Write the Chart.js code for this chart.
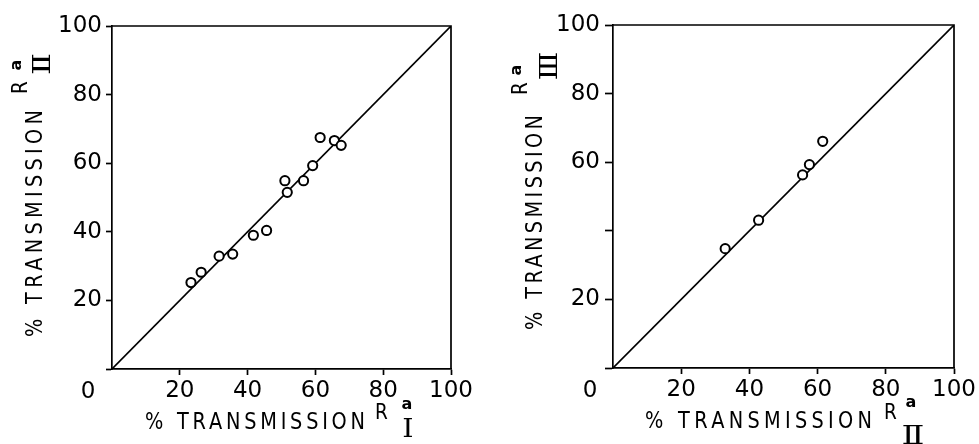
<!DOCTYPE html>
<html><head><meta charset="utf-8">
<script src="https://cdn.jsdelivr.net/npm/chart.js@4"></script>
<style>
html,body{margin:0;padding:0;background:#fff;overflow:hidden}
#wrap{position:relative;width:979px;height:444px;background:#fff}
canvas{position:absolute;top:0}
</style></head><body>
<div id="wrap">
<canvas id="c1" width="490" height="444" style="left:0"></canvas>
<canvas id="c2" width="489" height="444" style="left:490px"></canvas>
</div>
<script>
// ---- data ----
const leftX = [23.3, 26.3, 31.6, 35.6, 41.7, 45.6, 51.0, 51.7, 56.5, 59.2, 61.4, 65.6, 67.6];
const leftY = [25.2, 28.2, 32.9, 33.5, 39.0, 40.4, 54.9, 51.5, 54.9, 59.3, 67.5, 66.6, 65.2];
const rightX = [32.9, 42.7, 55.6, 57.6, 61.5];
const rightY = [34.8, 43.1, 56.3, 59.3, 66.1];
const lineX = [0, 100];
const lineY = [0, 100];
const leftXTicks = [20, 40, 60, 80, 100];
const leftYTicks = [20, 40, 60, 80, 100];
const rightXTicks = [20, 40, 60, 80, 100];
const rightYTicks = [20, 60, 80, 100];
const originLabel = '0';
const titleMain = '% TRANSMISSION';
const titleR = 'R';
const titleSup = 'a';
const leftXSub = 'Ⅰ', leftYSub = 'Ⅱ', rightXSub = 'Ⅱ', rightYSub = 'Ⅲ';

const FONT = '"DejaVu Sans", "Liberation Sans", Arial, sans-serif';
const HS = 0.84; // horizontal compression of title lettering

// ---- drawing helpers ----
function drawTitle(ctx, t) {
  ctx.save();
  ctx.translate(t.x, t.y);
  if (t.rot) ctx.rotate(t.rot);
  ctx.fillStyle = '#000';
  ctx.textBaseline = 'alphabetic';
  ctx.textAlign = 'left';
  ctx.save();
  ctx.scale(HS, 1);
  ctx.font = '23px ' + FONT;
  const w0 = ctx.measureText(titleMain).width;
  const sp = (t.target / HS - w0) / (titleMain.length - 1);
  if ('letterSpacing' in ctx) {
    ctx.letterSpacing = sp.toFixed(2) + 'px';
    ctx.fillText(titleMain, 0, 0);
    ctx.letterSpacing = '0px';
  } else {
    ctx.fillText(titleMain, 0, 0);
  }
  ctx.font = '22px ' + FONT;
  ctx.fillText(titleR, t.r[0] / HS, t.r[1]);
  ctx.restore();
  ctx.textAlign = 'center';
  ctx.font = 'bold 16px ' + FONT;
  ctx.fillText(titleSup, t.a[0], t.a[1]);
  ctx.save();
  ctx.translate(t.s[0], t.s[1]);
  ctx.scale(t.subScale, 1);
  ctx.font = t.subSize + 'px "DejaVu Serif", "DejaVu Sans", serif';
  ctx.fillText(t.sub, 0, 0);
  ctx.restore();
  ctx.restore();
}

const decorPlugin = {
  id: 'decor',
  afterDraw(chart, args, opts) {
    const ctx = chart.ctx;
    const a = chart.chartArea;
    ctx.save();
    ctx.strokeStyle = '#000';
    ctx.lineWidth = 1.7;
    ctx.beginPath();
    ctx.moveTo(a.left, a.top);
    ctx.lineTo(a.right, a.top);
    ctx.lineTo(a.right, a.bottom);
    ctx.stroke();
    ctx.fillStyle = '#000';
    ctx.font = '23px ' + FONT;
    ctx.textAlign = 'center';
    ctx.textBaseline = 'middle';
    ctx.fillText(originLabel, opts.origin[0], opts.origin[1]);
    ctx.restore();
    drawTitle(ctx, opts.xTitle);
    drawTitle(ctx, opts.yTitle);
  }
};

function makeChart(id, xs, ys, xTicks, yTicks, g) {
  const tickFont = {family: FONT, size: 23};
  const scaleBase = (labels, isX) => ({
    type: 'linear',
    min: 0, max: 100,
    ticks: {
      stepSize: 20,
      font: tickFont,
      color: '#000',
      padding: isX ? 2 : g.yPad,
      maxRotation: 0,
      autoSkip: false,
      callback: v => labels.includes(v) ? String(v) : ''
    },
    grid: {
      display: true,
      drawOnChartArea: false,
      drawTicks: true,
      tickLength: isX ? 6 : g.yTick,
      tickWidth: 1.7,
      tickColor: c => (isX && c.tick && c.tick.value === 0) ? 'rgba(0,0,0,0)' : '#000'
    },
    border: {display: true, color: '#000', width: 1.7},
    title: {display: false}
  });
  const xScale = scaleBase(xTicks, true);
  xScale.position = 'bottom';
  xScale.afterFit = s => { s.height = g.xHeight; };
  const yScale = scaleBase(yTicks, false);
  yScale.position = 'left';
  yScale.afterFit = s => { s.width = g.yWidth; };

  return new Chart(document.getElementById(id), {
    type: 'scatter',
    data: {
      datasets: [
        {
          data: xs.map((x, i) => ({x: x, y: ys[i]})),
          pointStyle: 'circle',
          pointRadius: 4.6,
          pointBorderWidth: 2,
          borderColor: '#000',
          backgroundColor: '#fff',
          showLine: false
        },
        {
          type: 'line',
          data: lineX.map((x, i) => ({x: x, y: lineY[i]})),
          borderColor: '#000',
          borderWidth: 1.6,
          pointRadius: 0,
          fill: false,
          tension: 0
        }
      ]
    },
    options: {
      responsive: false,
      animation: false,
      devicePixelRatio: 1,
      layout: {padding: {left: 0, top: g.padTop, right: g.padRight, bottom: 0}},
      scales: {x: xScale, y: yScale},
      plugins: {
        legend: {display: false},
        tooltip: {enabled: false},
        decor: {origin: g.origin, xTitle: g.xTitle, yTitle: g.yTitle}
      }
    },
    plugins: [decorPlugin]
  });
}

makeChart('c1', leftX, leftY, leftXTicks, leftYTicks, {
  yWidth: 112, xHeight: 75, padTop: 26, padRight: 39, yTick: 6, yPad: 4,
  origin: [88, 392],
  xTitle: {x: 145, y: 429, rot: 0, target: 220, r: [230, -10], a: [262, -20], s: [263, 8], sub: leftXSub, subSize: 26, subScale: 1.1},
  yTitle: {x: 42, y: 337, rot: -Math.PI / 2, target: 227, r: [243, -15], a: [272, -21], s: [273, 8], sub: leftYSub, subSize: 25, subScale: 1.3}
});

makeChart('c2', rightX, rightY, rightXTicks, rightYTicks, {
  yWidth: 123, xHeight: 76, padTop: 25, padRight: 25, yTick: 8, yPad: 5,
  origin: [100, 391],
  xTitle: {x: 155, y: 428, rot: 0, target: 227, r: [239, -9], a: [266, -21], s: [268, 16], sub: rightXSub, subSize: 26, subScale: 1.3},
  yTitle: {x: 52, y: 330, rot: -Math.PI / 2, target: 215, r: [235, -15], a: [260, -21], s: [264, 15], sub: rightYSub, subSize: 25, subScale: 1.2}
});
</script>
</body></html>
